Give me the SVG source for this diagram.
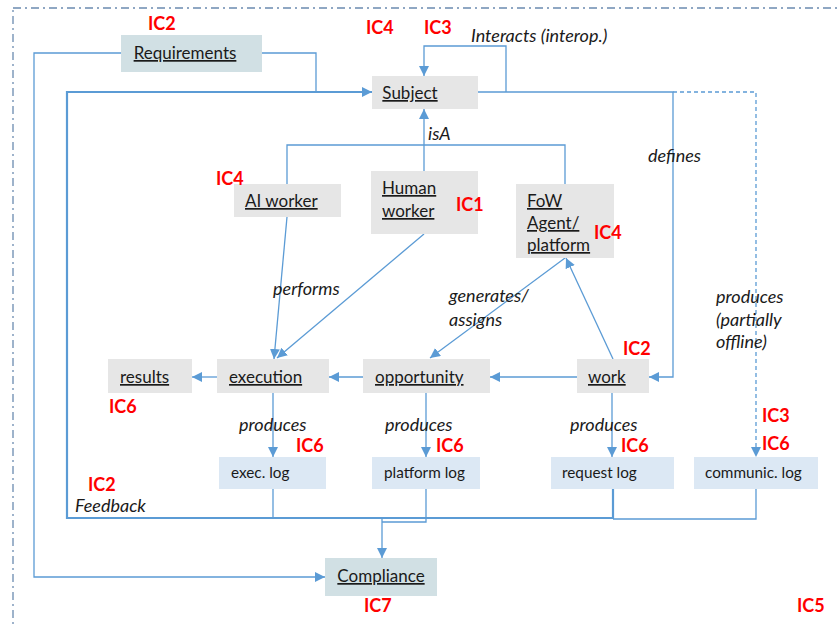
<svg xmlns="http://www.w3.org/2000/svg" width="840" height="624" viewBox="0 0 840 624">
<defs>
<marker id="ah" viewBox="0 0 10 10" refX="10" refY="5" markerWidth="10" markerHeight="10" markerUnits="userSpaceOnUse" orient="auto">
<path d="M0,0 L10,5 L0,10 z" fill="#5b9bd5"/>
</marker>
<style>
.n{font-family:Lato,"Liberation Sans",sans-serif;font-size:17px;fill:#1a1a1a;text-decoration:underline}
.l{font-family:Lato,"Liberation Sans",sans-serif;font-size:15.3px;fill:#1a1a1a}
.e{font-family:Lato,"Liberation Sans",sans-serif;font-size:18px;font-style:italic;fill:#1a1a1a}
.ic{font-family:Lato,"Liberation Sans",sans-serif;font-size:18px;font-weight:bold;fill:#ff0000}
.g{fill:#e6e6e6}
.b{fill:#d1e0e4}
.lg{fill:#dce8f4}
.c{fill:none;stroke:#5b9bd5;stroke-width:1.3}
.t{fill:none;stroke:#5b9bd5;stroke-width:2.2}
.d{fill:none;stroke:#5b9bd5;stroke-width:1.3;stroke-dasharray:4,3}
</style>
</defs>
<rect x="13" y="8" width="860" height="660" fill="none" stroke="#6b8bb0" stroke-width="1.3" stroke-dasharray="8,4,2,4"/>

<g id="connectors">
<polyline class="c" points="121,53 34,53 34,577 325,577" marker-end="url(#ah)"/>
<polyline class="c" points="262,53 316,53 316,92"/>
<polyline class="t" points="382,518 67,518 67,92 372,92" marker-end="url(#ah)"/>
<polyline class="c" points="478,92 673,92 673,377 649,377" marker-end="url(#ah)"/>
<polyline class="c" points="506,92 506,46 424,46 424,76" marker-end="url(#ah)"/>
<polyline class="d" points="673,92 756,92 756,457" marker-end="url(#ah)"/>
<polyline class="c" points="287,184 287,145 565,145 565,184"/>
<line class="c" x1="424" y1="171" x2="424" y2="109" marker-end="url(#ah)"/>
<line class="c" x1="287" y1="217" x2="274" y2="359" marker-end="url(#ah)"/>
<line class="c" x1="424" y1="234" x2="277" y2="358" marker-end="url(#ah)"/>
<line class="c" x1="565" y1="258" x2="430" y2="358" marker-end="url(#ah)"/>
<line class="c" x1="613" y1="359" x2="566" y2="258" marker-end="url(#ah)"/>
<line class="c" x1="577" y1="377" x2="490" y2="377" marker-end="url(#ah)"/>
<line class="c" x1="363" y1="377" x2="329" y2="377" marker-end="url(#ah)"/>
<line class="c" x1="217" y1="377" x2="192" y2="377" marker-end="url(#ah)"/>
<line class="c" x1="273" y1="393" x2="273" y2="457" marker-end="url(#ah)"/>
<line class="c" x1="426" y1="393" x2="426" y2="457" marker-end="url(#ah)"/>
<line class="c" x1="612" y1="393" x2="612" y2="457" marker-end="url(#ah)"/>
<polyline class="c" points="273,489 273,517"/>
<polyline class="c" points="426,489 426,522 382,522"/>
<polyline class="t" points="382,518 613,518 613,489"/>
<polyline class="c" points="756,489 756,519 613,519"/>
<line class="c" x1="382" y1="518" x2="382" y2="558" marker-end="url(#ah)"/>
</g>

<g id="requirements"><rect class="b" x="121" y="35" width="141" height="37"/><text class="n" x="185" y="59" text-anchor="middle">Requirements</text></g>
<g id="subject"><rect class="g" x="372" y="76" width="106" height="33"/><text class="n" x="410" y="99" text-anchor="middle">Subject</text></g>
<g id="ai-worker"><rect class="g" x="234" y="184" width="107" height="33"/><text class="n" x="245" y="207">AI worker</text></g>
<g id="human-worker"><rect class="g" x="371" y="171" width="107" height="63"/><text class="n" x="382" y="194">Human</text><text class="n" x="382" y="217">worker</text></g>
<g id="fow-agent"><rect class="g" x="516" y="184" width="98" height="74"/><text class="n" x="527" y="207">FoW</text><text class="n" x="527" y="229">Agent/</text><text class="n" x="527" y="251">platform</text></g>
<g id="results"><rect class="g" x="108" y="359" width="84" height="34"/><text class="n" x="120" y="383">results</text></g>
<g id="execution"><rect class="g" x="217" y="359" width="112" height="34"/><text class="n" x="229" y="383">execution</text></g>
<g id="opportunity"><rect class="g" x="363" y="359" width="127" height="34"/><text class="n" x="375" y="383">opportunity</text></g>
<g id="work"><rect class="g" x="577" y="359" width="72" height="34"/><text class="n" x="588" y="383">work</text></g>
<g id="exec-log"><rect class="lg" x="219" y="457" width="107" height="32"/><text class="l" x="231" y="478">exec. log</text></g>
<g id="platform-log"><rect class="lg" x="372" y="457" width="108" height="32"/><text class="l" x="384" y="478">platform log</text></g>
<g id="request-log"><rect class="lg" x="551" y="457" width="123" height="32"/><text class="l" x="562" y="478">request log</text></g>
<g id="communic-log"><rect class="lg" x="694" y="457" width="124" height="32"/><text class="l" x="705" y="478">communic. log</text></g>
<g id="compliance"><rect class="b" x="325" y="558" width="112" height="38"/><text class="n" x="381" y="582" text-anchor="middle">Compliance</text></g>

<g id="labels">
<text class="e" x="471" y="42">Interacts (interop.)</text>
<text class="e" x="428" y="140">isA</text>
<text class="e" x="648" y="162">defines</text>
<text class="e" x="273" y="295">performs</text>
<text class="e" x="449" y="302">generates/</text>
<text class="e" x="449" y="326">assigns</text>
<text class="e" x="716" y="303">produces</text>
<text class="e" x="716" y="326">(partially</text>
<text class="e" x="716" y="348">offline)</text>
<text class="e" x="239" y="431">produces</text>
<text class="e" x="385" y="431">produces</text>
<text class="e" x="570" y="431">produces</text>
<text class="e" x="75" y="512">Feedback</text>
</g>
<g id="ic-labels">
<text class="ic" x="148" y="30">IC2</text>
<text class="ic" x="366" y="34">IC4</text>
<text class="ic" x="424" y="34">IC3</text>
<text class="ic" x="216" y="185">IC4</text>
<text class="ic" x="456" y="211">IC1</text>
<text class="ic" x="594" y="239">IC4</text>
<text class="ic" x="623" y="355">IC2</text>
<text class="ic" x="109" y="413">IC6</text>
<text class="ic" x="296" y="452">IC6</text>
<text class="ic" x="436" y="452">IC6</text>
<text class="ic" x="621" y="452">IC6</text>
<text class="ic" x="762" y="422">IC3</text>
<text class="ic" x="762" y="450">IC6</text>
<text class="ic" x="88" y="491">IC2</text>
<text class="ic" x="364" y="612">IC7</text>
<text class="ic" x="797" y="612">IC5</text>
</g>
</svg>
